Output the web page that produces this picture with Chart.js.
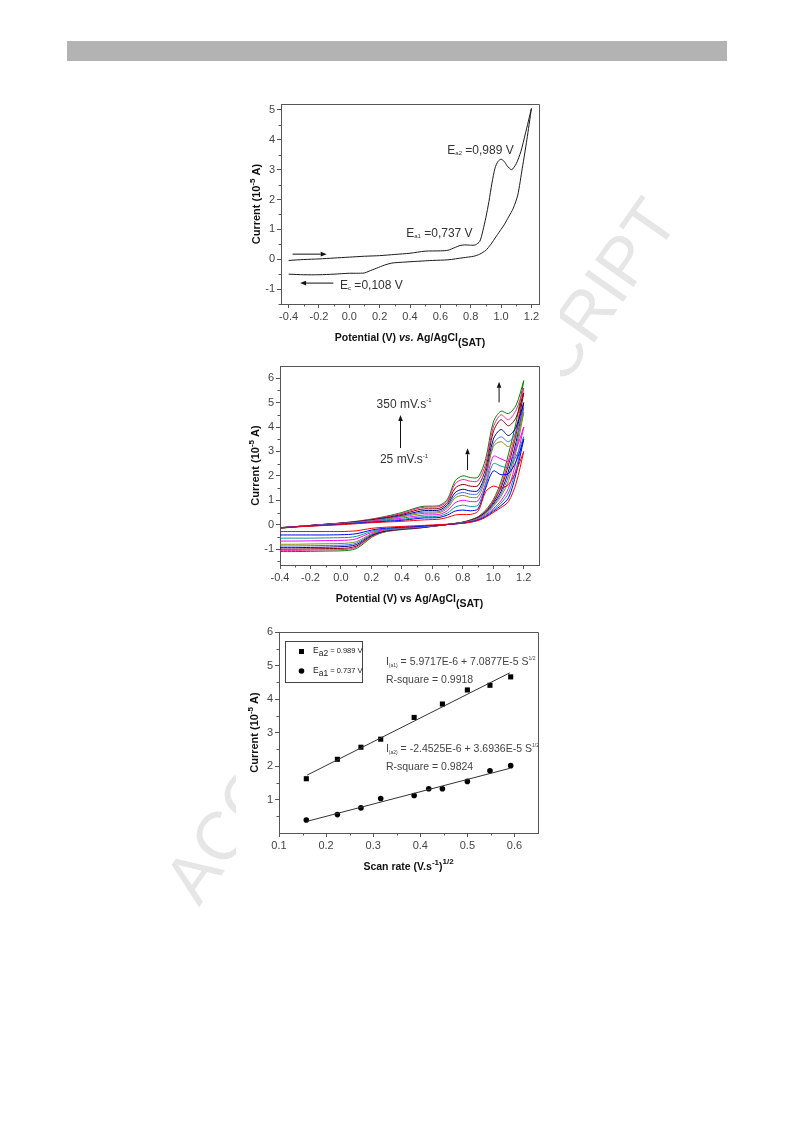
<!DOCTYPE html>
<html>
<head>
<meta charset="utf-8">
<script src="https://cdn.jsdelivr.net/npm/chart.js@4.4.0/dist/chart.umd.min.js"></script>
<style>
  body { margin: 0; background: #fff; }
  #page { position: relative; width: 793px; height: 1121px; overflow: hidden; background: #fff; }
  #bar { position: absolute; left: 67px; top: 41px; width: 660px; height: 20px; background: #b3b3b3; }
  #wm { position: absolute; left: 420px; top: 550px; transform: translate(-50%, -50%) rotate(-55deg);
        font: 68px 'Liberation Sans', Arial, sans-serif; color: #e6e6e6; white-space: nowrap; }
  canvas { position: absolute; background: #fff; }
</style>
</head>
<body>
<div id="page">
  <div id="bar"></div>
  <div id="wm">ACCEPTED MANUSCRIPT</div>
  <canvas id="cv1" width="324" height="264" style="left:236px;top:92px"></canvas>
  <canvas id="cv2" width="324" height="266" style="left:236px;top:355px"></canvas>
  <canvas id="cv3" width="324" height="265" style="left:236px;top:620px"></canvas>
</div>
<script>
// ---- chart 1: single CV ----
const cv1ForwardX = [-0.4, -0.3, -0.2, -0.1, 0, 0.1, 0.2, 0.3, 0.4, 0.5, 0.6, 0.65, 0.7, 0.73, 0.76, 0.8, 0.83, 0.86, 0.88, 0.9, 0.92, 0.94, 0.96, 0.98, 1.0, 1.02, 1.04, 1.07, 1.1, 1.13, 1.16, 1.2];
const cv1ForwardY = [-0.04, -0.01, 0.01, 0.04, 0.07, 0.1, 0.12, 0.16, 0.2, 0.27, 0.28, 0.3, 0.4, 0.46, 0.48, 0.47, 0.48, 0.6, 0.95, 1.4, 1.93, 2.55, 3.05, 3.28, 3.35, 3.28, 3.13, 3.0, 3.2, 3.6, 4.2, 5.05];
const cv1ReverseX = [1.2, 1.17, 1.14, 1.11, 1.08, 1.05, 1.02, 1.0, 0.97, 0.93, 0.9, 0.86, 0.82, 0.75, 0.65, 0.55, 0.45, 0.35, 0.28, 0.23, 0.18, 0.13, 0.1, 0.05, 0, -0.1, -0.2, -0.3, -0.4];
const cv1ReverseY = [5.05, 4.0, 3.05, 2.15, 1.7, 1.42, 1.15, 1.0, 0.78, 0.48, 0.3, 0.17, 0.1, 0.05, -0.02, -0.04, -0.07, -0.1, -0.13, -0.2, -0.3, -0.4, -0.46, -0.47, -0.47, -0.5, -0.52, -0.52, -0.5];
const cv1XTicks = [-0.4, -0.2, 0.0, 0.2, 0.4, 0.6, 0.8, 1.0, 1.2];
const cv1XMinor = [-0.3, -0.1, 0.1, 0.3, 0.5, 0.7, 0.9, 1.1];
const cv1YTicks = [-1, 0, 1, 2, 3, 4, 5];
const cv1YMinor = [-1.5, -0.5, 0.5, 1.5, 2.5, 3.5, 4.5];

// ---- chart 2: scan rates 25 ... 350 mV/s ----
const scanRates = [25, 50, 75, 100, 150, 175, 200, 250, 300, 350];
const scanColors = ['#ff0000', '#0000ff', '#009a9a', '#ff00ff', '#8a8a00', '#3a6cff', '#000080', '#800000', '#ff1e8c', '#008000'];
const fwdPotential = [-0.4, -0.3, -0.2, -0.1, 0, 0.1, 0.2, 0.3, 0.4, 0.5, 0.55, 0.6, 0.65, 0.7, 0.75, 0.8, 0.85, 0.9, 0.95, 1.0, 1.05, 1.1, 1.15, 1.2];
const revPotential = [1.2, 1.15, 1.1, 1.05, 1.0, 0.95, 0.9, 0.85, 0.8, 0.7, 0.6, 0.5, 0.4, 0.3, 0.25, 0.2, 0.15, 0.1, 0.05, 0, -0.1, -0.2, -0.3, -0.4];
const fwd25  = [-0.12, -0.09, -0.06, -0.03, 0.0, 0.04, 0.08, 0.11, 0.14, 0.18, 0.2, 0.21, 0.23, 0.3, 0.4, 0.42, 0.42, 0.55, 1.35, 1.58, 1.5, 1.65, 2.2, 3.0];
const fwd50  = [-0.12, -0.09, -0.05, -0.02, 0.02, 0.06, 0.1, 0.14, 0.18, 0.25, 0.28, 0.28, 0.3, 0.4, 0.56, 0.6, 0.57, 0.65, 1.5, 2.2, 2.05, 2.1, 2.6, 3.5];
const fwd75  = [-0.12, -0.08, -0.05, -0.01, 0.03, 0.07, 0.12, 0.17, 0.22, 0.3, 0.33, 0.33, 0.36, 0.48, 0.72, 0.8, 0.75, 0.8, 1.6, 2.5, 2.4, 2.35, 2.8, 3.6];
const fwd100 = [-0.12, -0.08, -0.04, 0.0, 0.04, 0.08, 0.14, 0.2, 0.27, 0.36, 0.4, 0.4, 0.43, 0.58, 0.9, 1.0, 0.95, 0.98, 1.7, 2.8, 2.7, 2.6, 3.1, 4.0];
const fwd150 = [-0.13, -0.08, -0.04, 0.0, 0.05, 0.09, 0.16, 0.23, 0.32, 0.43, 0.47, 0.47, 0.5, 0.68, 1.1, 1.2, 1.12, 1.15, 1.9, 3.2, 3.4, 3.2, 3.6, 4.6];
const fwd175 = [-0.13, -0.08, -0.04, 0.01, 0.05, 0.1, 0.17, 0.25, 0.35, 0.48, 0.52, 0.52, 0.55, 0.75, 1.2, 1.32, 1.25, 1.28, 2.0, 3.3, 3.6, 3.4, 3.8, 4.8];
const fwd200 = [-0.13, -0.08, -0.03, 0.01, 0.06, 0.11, 0.18, 0.27, 0.38, 0.53, 0.58, 0.58, 0.61, 0.82, 1.32, 1.45, 1.38, 1.4, 2.1, 3.5, 3.9, 3.65, 4.0, 5.0];
const fwd250 = [-0.14, -0.08, -0.03, 0.02, 0.06, 0.12, 0.2, 0.3, 0.42, 0.6, 0.65, 0.65, 0.68, 0.9, 1.5, 1.65, 1.58, 1.6, 2.3, 3.8, 4.3, 4.05, 4.4, 5.4];
const fwd300 = [-0.14, -0.08, -0.03, 0.02, 0.07, 0.13, 0.22, 0.33, 0.46, 0.66, 0.72, 0.72, 0.75, 0.98, 1.68, 1.85, 1.78, 1.8, 2.5, 4.0, 4.5, 4.3, 4.7, 5.6];
const fwd350 = [-0.15, -0.09, -0.03, 0.02, 0.07, 0.14, 0.23, 0.35, 0.5, 0.7, 0.76, 0.76, 0.8, 1.05, 1.8, 2.0, 1.93, 1.95, 2.7, 4.2, 4.65, 4.55, 4.9, 5.9];
const rev25  = [3.0, 1.7, 0.95, 0.7, 0.5, 0.3, 0.17, 0.1, 0.06, 0.02, -0.01, -0.04, -0.07, -0.1, -0.12, -0.15, -0.2, -0.25, -0.27, -0.28, -0.28, -0.28, -0.28, -0.28];
const rev50  = [3.5, 2.1, 1.1, 0.78, 0.55, 0.33, 0.19, 0.11, 0.06, 0.01, -0.03, -0.07, -0.1, -0.14, -0.17, -0.22, -0.3, -0.37, -0.4, -0.41, -0.42, -0.42, -0.42, -0.42];
const rev75  = [3.6, 2.3, 1.3, 0.88, 0.6, 0.36, 0.2, 0.12, 0.07, 0.01, -0.04, -0.08, -0.12, -0.17, -0.21, -0.27, -0.38, -0.48, -0.52, -0.53, -0.54, -0.55, -0.55, -0.55];
const rev100 = [4.0, 2.6, 1.5, 0.98, 0.66, 0.4, 0.22, 0.13, 0.07, 0.01, -0.04, -0.09, -0.13, -0.19, -0.24, -0.32, -0.45, -0.58, -0.63, -0.64, -0.65, -0.66, -0.67, -0.67];
const rev150 = [4.6, 3.0, 1.8, 1.15, 0.75, 0.45, 0.25, 0.15, 0.08, 0.01, -0.05, -0.1, -0.15, -0.21, -0.27, -0.37, -0.54, -0.7, -0.75, -0.77, -0.78, -0.79, -0.8, -0.8];
const rev175 = [4.8, 3.2, 2.0, 1.25, 0.8, 0.48, 0.27, 0.16, 0.09, 0.01, -0.05, -0.11, -0.16, -0.22, -0.29, -0.4, -0.59, -0.76, -0.82, -0.84, -0.85, -0.86, -0.87, -0.87];
const rev200 = [5.0, 3.4, 2.2, 1.35, 0.85, 0.5, 0.28, 0.17, 0.09, 0.01, -0.06, -0.12, -0.17, -0.24, -0.31, -0.43, -0.63, -0.82, -0.88, -0.9, -0.92, -0.93, -0.94, -0.94];
const rev250 = [5.4, 3.7, 2.45, 1.5, 0.92, 0.53, 0.3, 0.18, 0.1, 0.01, -0.06, -0.13, -0.18, -0.25, -0.33, -0.46, -0.68, -0.88, -0.95, -0.97, -0.98, -0.99, -1.0, -1.0];
const rev300 = [5.6, 3.9, 2.65, 1.6, 0.97, 0.56, 0.31, 0.19, 0.1, 0.01, -0.07, -0.14, -0.19, -0.27, -0.35, -0.49, -0.72, -0.93, -1.0, -1.02, -1.03, -1.04, -1.05, -1.05];
const rev350 = [5.9, 4.2, 2.9, 1.75, 1.03, 0.6, 0.33, 0.2, 0.11, 0.01, -0.07, -0.15, -0.2, -0.28, -0.37, -0.52, -0.77, -0.98, -1.05, -1.07, -1.08, -1.09, -1.1, -1.1];
const fwdScans = [fwd25, fwd50, fwd75, fwd100, fwd150, fwd175, fwd200, fwd250, fwd300, fwd350];
const revScans = [rev25, rev50, rev75, rev100, rev150, rev175, rev200, rev250, rev300, rev350];
const cv2XTicks = [-0.4, -0.2, 0.0, 0.2, 0.4, 0.6, 0.8, 1.0, 1.2];
const cv2XMinor = [-0.3, -0.1, 0.1, 0.3, 0.5, 0.7, 0.9, 1.1];
const cv2YTicks = [-1, 0, 1, 2, 3, 4, 5, 6];
const cv2YMinor = [-1.5, -0.5, 0.5, 1.5, 2.5, 3.5, 4.5, 5.5];

// ---- chart 3: peak current vs sqrt(scan rate) ----
const sqrtRateA2 = [0.158, 0.224, 0.274, 0.316, 0.387, 0.447, 0.5, 0.548, 0.592];
const currentA2  = [1.62, 2.2, 2.56, 2.8, 3.45, 3.85, 4.27, 4.41, 4.66];
const sqrtRateA1 = [0.158, 0.224, 0.274, 0.316, 0.387, 0.418, 0.447, 0.5, 0.548, 0.592];
const currentA1  = [0.39, 0.55, 0.75, 1.03, 1.12, 1.32, 1.32, 1.54, 1.86, 2.01];
const fitX  = [0.16, 0.59];
const fitA2 = [1.73, 4.78];
const fitA1 = [0.35, 1.93];
const cv3XTicks = [0.1, 0.2, 0.3, 0.4, 0.5, 0.6];
const cv3XMinor = [0.15, 0.25, 0.35, 0.45, 0.55];
const cv3YTicks = [1, 2, 3, 4, 5, 6];
const cv3YMinor = [0.5, 1.5, 2.5, 3.5, 4.5, 5.5];

const FONT = "'Liberation Sans', Arial, Helvetica, sans-serif";
const f = (size, weight, style) => `${style || 'normal'} ${weight || 'normal'} ${size}px ${FONT}`;
const pts = (xs, ys) => xs.map((x, i) => ({ x: x, y: ys[i] }));

// draw a run of text pieces (for sub/superscripts)
function txt(ctx, x, y, parts, align, rot, color) {
  ctx.save();
  ctx.translate(x, y);
  if (rot) ctx.rotate(rot);
  ctx.textBaseline = 'middle';
  ctx.textAlign = 'left';
  let w = 0;
  parts.forEach(p => { ctx.font = p.f; w += ctx.measureText(p.t).width; });
  let cx = align === 'center' ? -w / 2 : 0;
  ctx.fillStyle = color || '#222';
  parts.forEach(p => {
    ctx.font = p.f;
    ctx.fillText(p.t, cx, p.dy || 0);
    cx += ctx.measureText(p.t).width;
  });
  ctx.restore();
}

function arrow(ctx, x1, y1, x2, y2) {
  const ang = Math.atan2(y2 - y1, x2 - x1), L = 6, W = 2.3;
  ctx.save();
  ctx.strokeStyle = '#111'; ctx.fillStyle = '#111'; ctx.lineWidth = 1;
  ctx.beginPath(); ctx.moveTo(x1, y1); ctx.lineTo(x2 - Math.cos(ang) * L, y2 - Math.sin(ang) * L); ctx.stroke();
  ctx.beginPath();
  ctx.moveTo(x2, y2);
  ctx.lineTo(x2 - Math.cos(ang) * L - Math.sin(ang) * W, y2 - Math.sin(ang) * L + Math.cos(ang) * W);
  ctx.lineTo(x2 - Math.cos(ang) * L + Math.sin(ang) * W, y2 - Math.sin(ang) * L - Math.cos(ang) * W);
  ctx.closePath(); ctx.fill();
  ctx.restore();
}

const yTitle = [{ t: 'Current (10', f: f(11, 'bold') }, { t: '-5', f: f(8, 'bold'), dy: -4 }, { t: ' A)', f: f(11, 'bold') }];

// frame: box, minor ticks, titles, notes
function frame(id, xMinor, yMinor, xTitle, notes) {
  return {
    id: id,
    afterDraw(chart) {
      const { ctx, chartArea: a, scales: { x, y } } = chart;
      ctx.save();
      ctx.strokeStyle = '#555'; ctx.lineWidth = 1;
      ctx.beginPath();
      ctx.moveTo(a.left, a.top + 0.5); ctx.lineTo(a.right + 0.5, a.top + 0.5); ctx.lineTo(a.right + 0.5, a.bottom);
      xMinor.forEach(v => { const p = Math.round(x.getPixelForValue(v)) + 0.5; ctx.moveTo(p, a.bottom); ctx.lineTo(p, a.bottom + 2.5); });
      yMinor.forEach(v => { const p = Math.round(y.getPixelForValue(v)) + 0.5; ctx.moveTo(a.left, p); ctx.lineTo(a.left - 2.5, p); });
      ctx.stroke();
      ctx.restore();
      txt(ctx, a.left - 24, (a.top + a.bottom) / 2, yTitle, 'center', -Math.PI / 2, '#111');
      txt(ctx, (a.left + a.right) / 2, a.bottom + 34, xTitle, 'center', 0, '#111');
      notes(ctx, v => x.getPixelForValue(v), v => y.getPixelForValue(v), a);
    }
  };
}

function scales(xr, yr, xTicks, yTicks, xDec, yW, xH) {
  const common = {
    type: 'linear',
    grid: { drawOnChartArea: false, tickLength: 4, color: '#555' },
    border: { color: '#555' },
  };
  return {
    x: Object.assign({}, common, {
      min: xr[0], max: xr[1],
      afterBuildTicks: s => { s.ticks = xTicks.map(v => ({ value: v })); },
      afterFit: s => { s.height = xH; },
      ticks: { callback: v => v.toFixed(xDec), font: { family: FONT, size: 11 }, color: '#444', padding: 2, maxRotation: 0, autoSkip: false }
    }),
    y: Object.assign({}, common, {
      min: yr[0], max: yr[1],
      afterBuildTicks: s => { s.ticks = yTicks.map(v => ({ value: v })); },
      afterFit: s => { s.width = yW; },
      ticks: { callback: v => String(v), font: { family: FONT, size: 11 }, color: '#444', padding: 2, autoSkip: false }
    })
  };
}

const baseOpts = {
  responsive: false, animation: false, devicePixelRatio: 1,
  plugins: { legend: { display: false }, tooltip: { enabled: false } }
};

// ---------- chart 1 ----------
new Chart(document.getElementById('cv1'), {
  type: 'scatter',
  data: {
    datasets: [
      { data: pts(cv1ForwardX, cv1ForwardY), showLine: true, pointRadius: 0, borderColor: '#1a1a1a', borderWidth: 1, tension: 0.25 },
      { data: pts(cv1ReverseX, cv1ReverseY), showLine: true, pointRadius: 0, borderColor: '#1a1a1a', borderWidth: 1, tension: 0.25 }
    ]
  },
  options: Object.assign({}, baseOpts, {
    layout: { padding: { top: 12, right: 21, left: 0, bottom: 0 } },
    scales: scales([-0.45, 1.25], [-1.5, 5.2], cv1XTicks, cv1YTicks, 1, 45, 52)
  }),
  plugins: [frame('frame1', cv1XMinor, cv1YMinor,
    [{ t: 'Potential (V) ', f: f(10.5, 'bold') }, { t: 'vs.', f: f(10.5, 'bold', 'italic') }, { t: ' Ag/AgCl', f: f(10.5, 'bold') }, { t: '(SAT)', f: f(10.5, 'bold'), dy: 5 }],
    (ctx, X, Y) => {
      txt(ctx, X(0.646), Y(3.65), [{ t: 'E', f: f(12) }, { t: 'a2', f: f(6), dy: 3 }, { t: ' =0,989 V', f: f(12) }], 'left', 0, '#333');
      txt(ctx, X(0.375), Y(0.86), [{ t: 'E', f: f(12) }, { t: 'a1', f: f(6), dy: 3 }, { t: ' =0,737 V', f: f(12) }], 'left', 0, '#333');
      txt(ctx, X(-0.061), Y(-0.89), [{ t: 'E', f: f(12) }, { t: 'c', f: f(6), dy: 3 }, { t: ' =0,108 V', f: f(12) }], 'left', 0, '#333');
      arrow(ctx, X(-0.374), Y(0.17), X(-0.149), Y(0.17));
      arrow(ctx, X(-0.105), Y(-0.8), X(-0.324), Y(-0.8));
    })]
});

// ---------- chart 2 ----------
const cv2Sets = [];
scanRates.forEach((r, i) => {
  cv2Sets.push({ label: r + ' fwd', data: pts(fwdPotential, fwdScans[i]), showLine: true, pointRadius: 0, borderColor: scanColors[i], borderWidth: 1, tension: 0.3 });
  cv2Sets.push({ label: r + ' rev', data: pts(revPotential, revScans[i]), showLine: true, pointRadius: 0, borderColor: scanColors[i], borderWidth: 1, tension: 0.3 });
});
new Chart(document.getElementById('cv2'), {
  type: 'scatter',
  data: { datasets: cv2Sets },
  options: Object.assign({}, baseOpts, {
    layout: { padding: { top: 11, right: 21, left: 0, bottom: 0 } },
    scales: scales([-0.4, 1.3], [-1.65, 6.5], cv2XTicks, cv2YTicks, 1, 44, 56)
  }),
  plugins: [frame('frame2', cv2XMinor, cv2YMinor,
    [{ t: 'Potential (V) vs Ag/AgCl', f: f(10.5, 'bold') }, { t: '(SAT)', f: f(10.5, 'bold'), dy: 5 }],
    (ctx, X, Y) => {
      txt(ctx, X(0.234), Y(4.93), [{ t: '350 mV.s', f: f(12) }, { t: '-1', f: f(6), dy: -4 }], 'left', 0, '#333');
      txt(ctx, X(0.256), Y(2.65), [{ t: '25 mV.s', f: f(12) }, { t: '-1', f: f(6), dy: -4 }], 'left', 0, '#333');
      arrow(ctx, X(0.391), Y(3.14), X(0.391), Y(4.49));
      arrow(ctx, X(0.831), Y(2.24), X(0.831), Y(3.13));
      arrow(ctx, X(1.038), Y(5.01), X(1.038), Y(5.86));
    })]
});

// ---------- chart 3 ----------
new Chart(document.getElementById('cv3'), {
  type: 'scatter',
  data: {
    datasets: [
      { data: pts(fitX, fitA2), showLine: true, pointRadius: 0, borderColor: '#333', borderWidth: 1 },
      { data: pts(fitX, fitA1), showLine: true, pointRadius: 0, borderColor: '#333', borderWidth: 1 },
      { data: pts(sqrtRateA2, currentA2), pointStyle: 'rect', pointRadius: 3.6, backgroundColor: '#000', borderColor: '#000', borderWidth: 0 },
      { data: pts(sqrtRateA1, currentA1), pointStyle: 'circle', pointRadius: 2.8, backgroundColor: '#000', borderColor: '#000', borderWidth: 0 }
    ]
  },
  options: Object.assign({}, baseOpts, {
    layout: { padding: { top: 12, right: 22, left: 0, bottom: 0 } },
    scales: scales([0.1, 0.65], [0, 6], cv3XTicks, cv3YTicks, 1, 43, 52)
  }),
  plugins: [frame('frame3', cv3XMinor, cv3YMinor,
    [{ t: 'Scan rate (V.s', f: f(10.5, 'bold') }, { t: '-1', f: f(8, 'bold'), dy: -4 }, { t: ')', f: f(10.5, 'bold') }, { t: '1/2', f: f(8, 'bold'), dy: -5 }],
    (ctx, X, Y, a) => {
      // legend box
      const lx = a.left + 6, ly = a.top + 9;
      ctx.save();
      ctx.strokeStyle = '#444'; ctx.lineWidth = 1;
      ctx.strokeRect(lx + 0.5, ly + 0.5, 77, 41);
      ctx.fillStyle = '#000';
      ctx.fillRect(lx + 14, ly + 8, 5, 5);
      ctx.beginPath(); ctx.arc(lx + 16.5, ly + 30, 2.8, 0, Math.PI * 2); ctx.fill();
      ctx.restore();
      txt(ctx, lx + 28, ly + 10, [{ t: 'E', f: f(8.5) }, { t: 'a2', f: f(8.5), dy: 3 }, { t: ' = 0.989 V', f: f(7.5) }], 'left', 0, '#222');
      txt(ctx, lx + 28, ly + 30, [{ t: 'E', f: f(8.5) }, { t: 'a1', f: f(8.5), dy: 3 }, { t: ' = 0.737 V', f: f(7.5) }], 'left', 0, '#222');
      // equations
      txt(ctx, X(0.327), Y(5.09), [{ t: 'I', f: f(10.5) }, { t: '(a1)', f: f(5), dy: 3 }, { t: ' = 5.9717E-6 + 7.0877E-5 S', f: f(10.5) }, { t: '1/2', f: f(5), dy: -4 }], 'left', 0, '#444');
      txt(ctx, X(0.327), Y(4.57), [{ t: 'R-square = 0.9918', f: f(10.5) }], 'left', 0, '#444');
      txt(ctx, X(0.327), Y(2.5), [{ t: 'I', f: f(10.5) }, { t: '(a2)', f: f(5), dy: 3 }, { t: ' = -2.4525E-6 + 3.6936E-5 S', f: f(10.5) }, { t: '1/2', f: f(5), dy: -4 }], 'left', 0, '#444');
      txt(ctx, X(0.327), Y(1.98), [{ t: 'R-square = 0.9824', f: f(10.5) }], 'left', 0, '#444');
    })]
});
</script>
</body>
</html>
